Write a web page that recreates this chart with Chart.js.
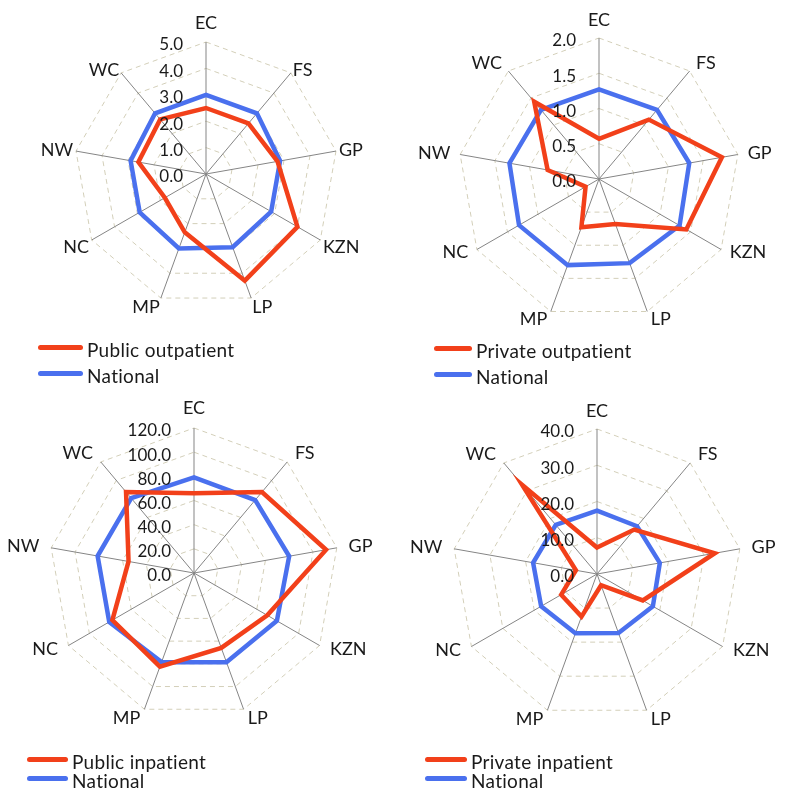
<!DOCTYPE html>
<html>
<head>
<meta charset="utf-8">
<script src="https://cdn.jsdelivr.net/npm/chart.js@4.4.1/dist/chart.umd.min.js"></script>
<style>
  body { margin: 0; background: #fff; font-family: Lato, "Open Sans", sans-serif; }
  #wrap { position: relative; width: 785px; height: 800px; overflow: hidden; }
  .panel { position: absolute; width: 392px; height: 400px; }
  .panel canvas { position: absolute; left: 0; top: 0; }
  .row { position: absolute; display: flex; align-items: center; height: 24px; font-size: 19px; color: #1a1a1a; white-space: nowrap; }
  .row .sw { display: inline-block; height: 5px; border-radius: 3px; margin-right: 4px; }
  .row .tx { position: relative; top: 2px; letter-spacing: 0.3px; }
</style>
</head>
<body>
<div id="wrap">
  <div class="panel" id="p1" style="left:0;top:0"><canvas id="c1" width="392" height="400"></canvas></div>
  <div class="panel" id="p2" style="left:392px;top:0"><canvas id="c2" width="393" height="400"></canvas></div>
  <div class="panel" id="p3" style="left:0;top:400px"><canvas id="c3" width="392" height="400"></canvas></div>
  <div class="panel" id="p4" style="left:392px;top:400px"><canvas id="c4" width="393" height="400"></canvas></div>
</div>
<script>
// provinces, clockwise from the top
const provinces = ["EC", "FS", "GP", "KZN", "LP", "MP", "NC", "NW", "WC"];

// public outpatient visits
const publicOutpatient = [2.5, 2.5, 2.75, 4.0, 4.3, 2.35, 1.8, 2.6, 2.7];
const nationalPublicOutpatient = [3.0, 3.0, 2.85, 2.85, 2.95, 3.0, 2.9, 2.9, 3.0];

// private outpatient visits
const privateOutpatient = [0.57, 1.1, 1.77, 1.43, 0.68, 0.73, 0.22, 0.74, 1.43];
const nationalPrivateOutpatient = [1.27, 1.28, 1.3, 1.32, 1.27, 1.3, 1.31, 1.29, 1.28];

// public inpatient
const publicInpatient = [66, 87.5, 111, 70, 66, 82.5, 78, 55, 87.5];
const nationalPublicInpatient = [79.2, 78.8, 80, 79.2, 78.5, 78.5, 81, 81, 80.8];

// private inpatient
const privateInpatient = [7.3, 16, 33, 14.6, 3.3, 12.5, 11.4, 5.9, 32.1];
const nationalPrivateInpatient = [17.5, 17.2, 17.6, 17.8, 17.3, 17.4, 17.8, 17.9, 17.7];

const RED = "#f2401a";
const BLUE = "#4a70ee";
const TEXT = "#1a1a1a";

// draws the province names and the value labels (incl. 0.0) on top of the lines
const axisText = {
  id: "axisText",
  afterDatasetsDraw(chart, args, opts) {
    const s = chart.scales.r;
    const ctx = chart.ctx;
    ctx.save();
    ctx.fillStyle = TEXT;

    ctx.font = "17px Lato";
    ctx.textAlign = "right";
    ctx.textBaseline = "middle";
    s.ticks.forEach((t) => {
      const d = s.getDistanceFromCenterForValue(t.value);
      ctx.fillText(t.value.toFixed(1), s.xCenter - 23, s.yCenter - d + 3);
    });

    ctx.font = "18px Lato";
    s._pointLabels.forEach((lab, i) => {
      const ang = s.getIndexAngle(i);
      const sx = Math.sin(ang);
      const sy = -Math.cos(ang);
      if (Math.abs(sx) < 0.1) {
        const p = s.getPointPosition(i, s.drawingArea + opts.padTop);
        ctx.textAlign = "center";
        ctx.textBaseline = sy < 0 ? "alphabetic" : "top";
        ctx.fillText(lab, p.x, p.y);
      } else {
        const p = s.getPointPosition(i, s.drawingArea + opts.pad);
        ctx.textAlign = sx > 0 ? "left" : "right";
        ctx.textBaseline = "middle";
        ctx.fillText(lab, p.x, p.y + (sy > 0 ? opts.lowerDy : 0));
      }
    });
    ctx.restore();
  },
};

function legendRows(panelId, items, lineX, lineW, ys) {
  const panel = document.getElementById(panelId);
  items.forEach((it, k) => {
    const row = document.createElement("div");
    row.className = "row";
    row.style.left = lineX + "px";
    row.style.top = ys[k] - 12 + "px";
    row.innerHTML =
      '<span class="sw" style="width:' + lineW + "px;background:" + it.color +
      '"></span><span class="tx">' + it.label + "</span>";
    panel.appendChild(row);
  });
}

function renderRadar(canvasId, mainLabel, mainData, natData, max, step, geo, textOpts) {
  const canvas = document.getElementById(canvasId);
  const W = canvas.width;
  const H = canvas.height;

  new Chart(canvas, {
    type: "radar",
    data: {
      labels: provinces,
      datasets: [
        { label: mainLabel, data: mainData, borderColor: RED, backgroundColor: RED },
        { label: "National", data: natData, borderColor: BLUE, backgroundColor: BLUE },
      ],
    },
    options: {
      responsive: false,
      animation: false,
      layout: {
        padding: {
          left: geo.cx - geo.r,
          top: geo.cy - geo.r,
          right: W - geo.cx - geo.r,
          bottom: H - geo.cy - geo.r,
        },
      },
      elements: {
        point: { radius: 0, hoverRadius: 0 },
        line: { borderWidth: 4.5, tension: 0, fill: false, borderJoinStyle: "miter" },
      },
      plugins: {
        legend: { display: false },
        tooltip: { enabled: false },
        axisText: textOpts,
      },
      scales: {
        r: {
          min: 0,
          max: max,
          ticks: { stepSize: step, display: false },
          pointLabels: { display: false },
          grid: { color: "#d3cfb9", lineWidth: 1 },
          border: { dash: [5, 4] },
          angleLines: { color: "#858585", lineWidth: 1 },
        },
      },
    },
    plugins: [axisText],
  });
}

renderRadar("c1", "Public outpatient", publicOutpatient, nationalPublicOutpatient, 5, 1,
  { cx: 206, cy: 174, r: 132 }, { pad: 3, padTop: 13, lowerDy: 6 });
renderRadar("c2", "Private outpatient", privateOutpatient, nationalPrivateOutpatient, 2, 0.5,
  { cx: 207, cy: 179, r: 141 }, { pad: 10, padTop: 12, lowerDy: -2 });
renderRadar("c3", "Public inpatient", publicInpatient, nationalPublicInpatient, 120, 20,
  { cx: 194, cy: 173, r: 145 }, { pad: 12, padTop: 14, lowerDy: -2 });
renderRadar("c4", "Private inpatient", privateInpatient, nationalPrivateInpatient, 40, 10,
  { cx: 205, cy: 174, r: 145 }, { pad: 12, padTop: 12, lowerDy: -2 });

legendRows("p1", [{ label: "Public outpatient", color: RED }, { label: "National", color: BLUE }], 38, 45, [347, 373]);
legendRows("p2", [{ label: "Private outpatient", color: RED }, { label: "National", color: BLUE }], 42, 38, [348, 374]);
legendRows("p3", [{ label: "Public inpatient", color: RED }, { label: "National", color: BLUE }], 27, 41, [359, 378]);
legendRows("p4", [{ label: "Private inpatient", color: RED }, { label: "National", color: BLUE }], 33, 42, [359, 378]);
</script>
</body>
</html>
